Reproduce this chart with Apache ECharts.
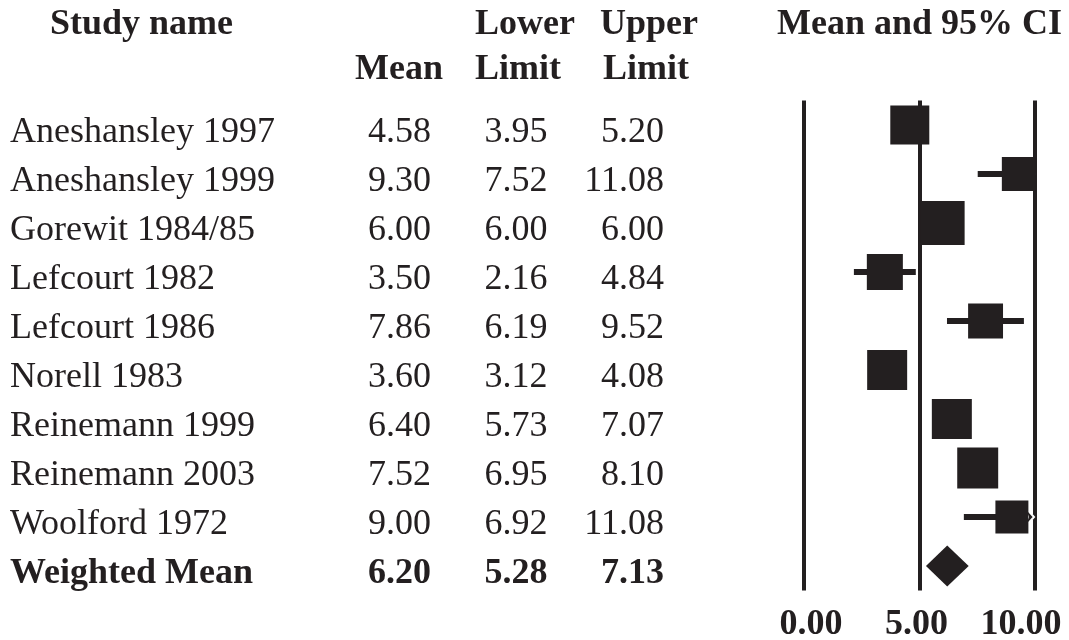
<!DOCTYPE html>
<html>
<head>
<meta charset="utf-8">
<title>Forest plot</title>
<script src="https://cdn.jsdelivr.net/npm/echarts@6/dist/echarts.min.js"></script>
<style>
  html, body { margin: 0; padding: 0; background: #ffffff; }
  #chart { width: 1069px; height: 640px; }
</style>
</head>
<body>
<div id="chart"></div>
<script>
// Individual studies
const studies = [
  'Aneshansley 1997', 'Aneshansley 1999', 'Gorewit 1984/85', 'Lefcourt 1982',
  'Lefcourt 1986', 'Norell 1983', 'Reinemann 1999', 'Reinemann 2003', 'Woolford 1972'
];
const means  = [4.58, 9.30, 6.00, 3.50, 7.86, 3.60, 6.40, 7.52, 9.00];
const lowers = [3.95, 7.52, 6.00, 2.16, 6.19, 3.12, 5.73, 6.95, 6.92];
const uppers = [5.20, 11.08, 6.00, 4.84, 9.52, 4.08, 7.07, 8.10, 11.08];
// relative weight of each study (%), shown by the box area
const weights = [11.6, 8.8, 14.8, 9.9, 9.3, 12.2, 12.2, 12.8, 8.3];

// Pooled estimate
const pooledLabel = 'Weighted Mean';
const pooledMean  = 6.20;
const pooledLower = 5.28;
const pooledUpper = 7.13;

// Axis
const xTicks = [0, 5, 10];

// Column headings
const headStudy = 'Study name';
const headMean = 'Mean';
const headLower = ['Lower', 'Limit'];
const headUpper = ['Upper', 'Limit'];
const headPlot = 'Mean and 95% CI';

const ink = '#231f20';
const serif = '"Liberation Serif", "Times New Roman", serif';
const fs = 36;
const xMin = xTicks[0];
const xMax = xTicks[xTicks.length - 1];
const boxScale = 11.45;   // px per sqrt(weight %)

const rows = studies.concat([pooledLabel]);

function fmt(v) { return v.toFixed(2); }

function renderStudy(params, api) {
  const row = api.value(1);
  const c = api.coord([api.value(0), row]);
  const lo = api.value(2), hi = api.value(3);
  const clamp = v => Math.max(xMin, Math.min(xMax, v));
  const pLo = api.coord([clamp(lo), row]);
  const pHi = api.coord([clamp(hi), row]);
  const side = boxScale * Math.sqrt(api.value(4));
  const children = [];
  if (pHi[0] - pLo[0] > 0.5) {
    children.push({
      type: 'line',
      shape: { x1: pLo[0], y1: c[1], x2: pHi[0], y2: c[1] },
      style: { stroke: ink, lineWidth: 6 }
    });
  }
  if (hi > xMax) {
    // interval runs past the axis: arrow head at the edge
    const ax = pHi[0] - 1;
    children.push({
      type: 'polygon',
      shape: { points: [[ax - 10, c[1] - 11], [ax, c[1]], [ax - 10, c[1] + 11], [ax - 6, c[1]]] },
      style: { fill: ink, stroke: '#ffffff', lineWidth: 2 }
    });
  }
  children.push({
    type: 'rect',
    shape: { x: c[0] - side / 2, y: c[1] - side / 2, width: side, height: side },
    style: { fill: ink }
  });
  return { type: 'group', children: children };
}

function renderPooled(params, api) {
  const row = api.value(1);
  const c = api.coord([api.value(0), row]);
  const l = api.coord([api.value(2), row]);
  const r = api.coord([api.value(3), row]);
  const h = 41;
  return {
    type: 'polygon',
    shape: { points: [[l[0], c[1]], [c[0], c[1] - h / 2], [r[0], c[1]], [c[0], c[1] + h / 2]] },
    style: { fill: ink }
  };
}

function headText(text, x, y) {
  return {
    type: 'text', x: x, y: y,
    style: {
      text: text, fill: ink, fontFamily: serif, fontSize: fs, fontWeight: 'bold',
      align: 'left', verticalAlign: 'middle'
    }
  };
}

const tickStyle = { fontFamily: serif, fontSize: fs, fontWeight: 'bold', color: ink };

const chart = echarts.init(document.getElementById('chart'), null, { renderer: 'canvas' });

chart.setOption({
  backgroundColor: '#ffffff',
  animation: false,
  grid: {
    left: 804, right: 34, top: 100.5, bottom: 49.5,
    containLabel: false, outerBoundsMode: 'none'
  },
  xAxis: {
    type: 'value', min: xMin, max: xMax, interval: xTicks[1] - xTicks[0],
    axisLine: { show: false }, axisTick: { show: false },
    splitLine: { show: true, showMinLine: true, showMaxLine: true, lineStyle: { color: ink, width: 4 } },
    axisLabel: {
      color: ink, fontFamily: serif, fontSize: fs, fontWeight: 'bold', margin: 16,
      formatter: function (v) {
        const i = xTicks.indexOf(v);
        return '{t' + i + '|' + fmt(v) + '}';
      },
      rich: {
        t0: Object.assign({ padding: [0, 0, 0, 14] }, tickStyle),
        t1: Object.assign({ padding: [0, 6, 0, 0] }, tickStyle),
        t2: Object.assign({ padding: [0, 28, 0, 0] }, tickStyle)
      }
    }
  },
  yAxis: {
    type: 'category', data: rows, inverse: true,
    axisLine: { show: false }, axisTick: { show: false }, splitLine: { show: false },
    axisLabel: {
      interval: 0, margin: 140, color: ink, padding: [16, 0, 0, 0],
      formatter: function (value, idx) {
        const pooled = idx === studies.length;
        const m = pooled ? pooledMean : means[idx];
        const lo = pooled ? pooledLower : lowers[idx];
        const hi = pooled ? pooledUpper : uppers[idx];
        const n = pooled ? 'nameB' : 'name';
        const v = pooled ? 'numB' : 'num';
        return '{' + n + '|' + value + '}{' + v + 'M|' + fmt(m) + '}{' + v + '|' + fmt(lo) + '}{' + v + '|' + fmt(hi) + '}';
      },
      rich: {
        name:  { width: 330, align: 'left',  fontFamily: serif, fontSize: fs, color: ink },
        nameB: { width: 330, align: 'left',  fontFamily: serif, fontSize: fs, color: ink, fontWeight: 'bold' },
        numM:  { width: 91,  align: 'right', fontFamily: serif, fontSize: fs, color: ink },
        numBM: { width: 91,  align: 'right', fontFamily: serif, fontSize: fs, color: ink, fontWeight: 'bold' },
        num:   { width: 116.5, align: 'right', fontFamily: serif, fontSize: fs, color: ink },
        numB:  { width: 116.5, align: 'right', fontFamily: serif, fontSize: fs, color: ink, fontWeight: 'bold' }
      }
    }
  },
  graphic: [
    headText(headStudy, 50, 25),
    headText(headLower[0], 475, 25),
    headText(headUpper[0], 600, 25),
    headText(headMean, 355, 70),
    headText(headLower[1], 475, 70),
    headText(headUpper[1], 603, 70),
    headText(headPlot, 777, 25)
  ],
  series: [
    {
      type: 'custom', name: 'Studies', renderItem: renderStudy, clip: false,
      encode: { x: 0, y: 1 },
      data: studies.map((s, i) => [means[i], i, lowers[i], uppers[i], weights[i]]),
      z: 3
    },
    {
      type: 'custom', name: pooledLabel, renderItem: renderPooled, clip: false,
      encode: { x: 0, y: 1 },
      data: [[pooledMean, studies.length, pooledLower, pooledUpper]],
      z: 3
    }
  ]
});
</script>
</body>
</html>
